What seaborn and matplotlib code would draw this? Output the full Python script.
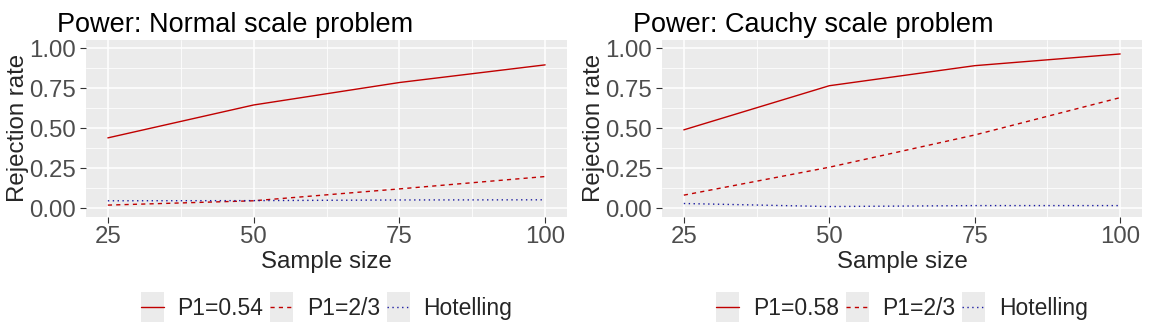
"""
Power curves for the normal and Cauchy scale problems, ggplot-style.
"""

import matplotlib
matplotlib.use("Agg")
import matplotlib.pyplot as plt
from matplotlib.legend_handler import HandlerLine2D
from matplotlib.patches import Rectangle
from matplotlib.ticker import MultipleLocator
import seaborn as sns
import pandas as pd

sample_sizes = [25, 50, 75, 100]

normal_p1 = [0.44, 0.645, 0.785, 0.895]
normal_p23 = [0.021, 0.048, 0.122, 0.199]
normal_hot = [0.048, 0.049, 0.053, 0.054]

cauchy_p1 = [0.49, 0.765, 0.89, 0.963]
cauchy_p23 = [0.083, 0.257, 0.458, 0.691]
cauchy_hot = [0.031, 0.012, 0.018, 0.018]

titles = ["Power: Normal scale problem", "Power: Cauchy scale problem"]
p1_labels = ["P1=0.54", "P1=0.58"]

sns.set_theme(style="darkgrid")
plt.rcParams["font.family"] = ["Liberation Sans", "DejaVu Sans"]

RED = "#C00000"
BLUE = "#1a1aa0"
GREY_BG = "#EBEBEB"


class KeyHandler(HandlerLine2D):
    """Short line legend key drawn on a grey square, like ggplot."""

    def create_artists(self, legend, orig_handle, xdescent, ydescent,
                       width, height, fontsize, trans):
        bg = Rectangle((-xdescent, -ydescent - 5), width, height + 10,
                       facecolor=GREY_BG, edgecolor="none", transform=trans)
        arts = super().create_artists(legend, orig_handle, xdescent, ydescent,
                                      width, height, fontsize, trans)
        for a in arts:
            xs = a.get_xdata()
            if len(xs) == 2:
                pad = 0.15 * width
                a.set_xdata([xs[0] + pad, xs[1] - pad])
        return [bg] + arts


def make_frame(p1_label, p1, p23, hot):
    rows = []
    for name, vals in [(p1_label, p1), ("P1=2/3", p23), ("Hotelling", hot)]:
        for n, v in zip(sample_sizes, vals):
            rows.append({"n": n, "rate": v, "test": name})
    return pd.DataFrame(rows)


W, H = 1150, 333
fig = plt.figure(figsize=(W / 100, H / 100), dpi=100)
fig.patch.set_facecolor("white")

boxes = [(86, 567), (662, 1142)]
top, bottom = 40, 216.5
frames = [
    make_frame(p1_labels[0], normal_p1, normal_p23, normal_hot),
    make_frame(p1_labels[1], cauchy_p1, cauchy_p23, cauchy_hot),
]

for (x0, x1), df, title, p1_label in zip(boxes, frames, titles, p1_labels):
    ax = fig.add_axes([x0 / W, (H - bottom) / H, (x1 - x0) / W, (bottom - top) / H])
    ax.set_facecolor(GREY_BG)
    order = [p1_label, "P1=2/3", "Hotelling"]
    sns.lineplot(
        data=df, x="n", y="rate", hue="test", style="test",
        hue_order=order, style_order=order,
        palette={p1_label: RED, "P1=2/3": RED, "Hotelling": BLUE},
        dashes={p1_label: "", "P1=2/3": (3, 3), "Hotelling": (1, 2.5)},
        linewidth=1.0, ax=ax,
    )
    ax.set_xlim(25 - 3.75, 100 + 3.75)
    ax.set_ylim(-0.05, 1.05)
    ax.xaxis.set_major_locator(MultipleLocator(25))
    ax.xaxis.set_minor_locator(MultipleLocator(12.5))
    ax.yaxis.set_major_locator(MultipleLocator(0.25))
    ax.yaxis.set_minor_locator(MultipleLocator(0.125))
    ax.yaxis.set_major_formatter(lambda v, pos: f"{v:.2f}")
    ax.grid(which="major", color="white", linewidth=1.1)
    ax.grid(which="minor", color="white", linewidth=0.55)
    ax.set_axisbelow(True)
    for s in ax.spines.values():
        s.set_visible(False)
    ax.tick_params(which="major", length=4, width=0.8, color="#333333",
                   labelsize=17.3, labelcolor="#4D4D4D", pad=3,
                   bottom=True, left=True)
    ax.tick_params(which="minor", length=0)
    ax.set_title(title, loc="left", fontsize=19.5, pad=6, x=-0.06, color="black")
    ax.set_xlabel("Sample size", fontsize=17.3, labelpad=2)
    ax.set_ylabel("Rejection rate", fontsize=17.3, labelpad=0.5)

    handles, labels = ax.get_legend_handles_labels()
    ax.get_legend().remove()
    leg = ax.legend(
        handles, labels, loc="center", bbox_to_anchor=(0.5, -0.52),
        ncol=3, frameon=False, fontsize=16.5, handlelength=1.0,
        handletextpad=0.6, columnspacing=0.3,
        handler_map={h: KeyHandler() for h in handles},
    )

fig.savefig("out.png", dpi=100)
